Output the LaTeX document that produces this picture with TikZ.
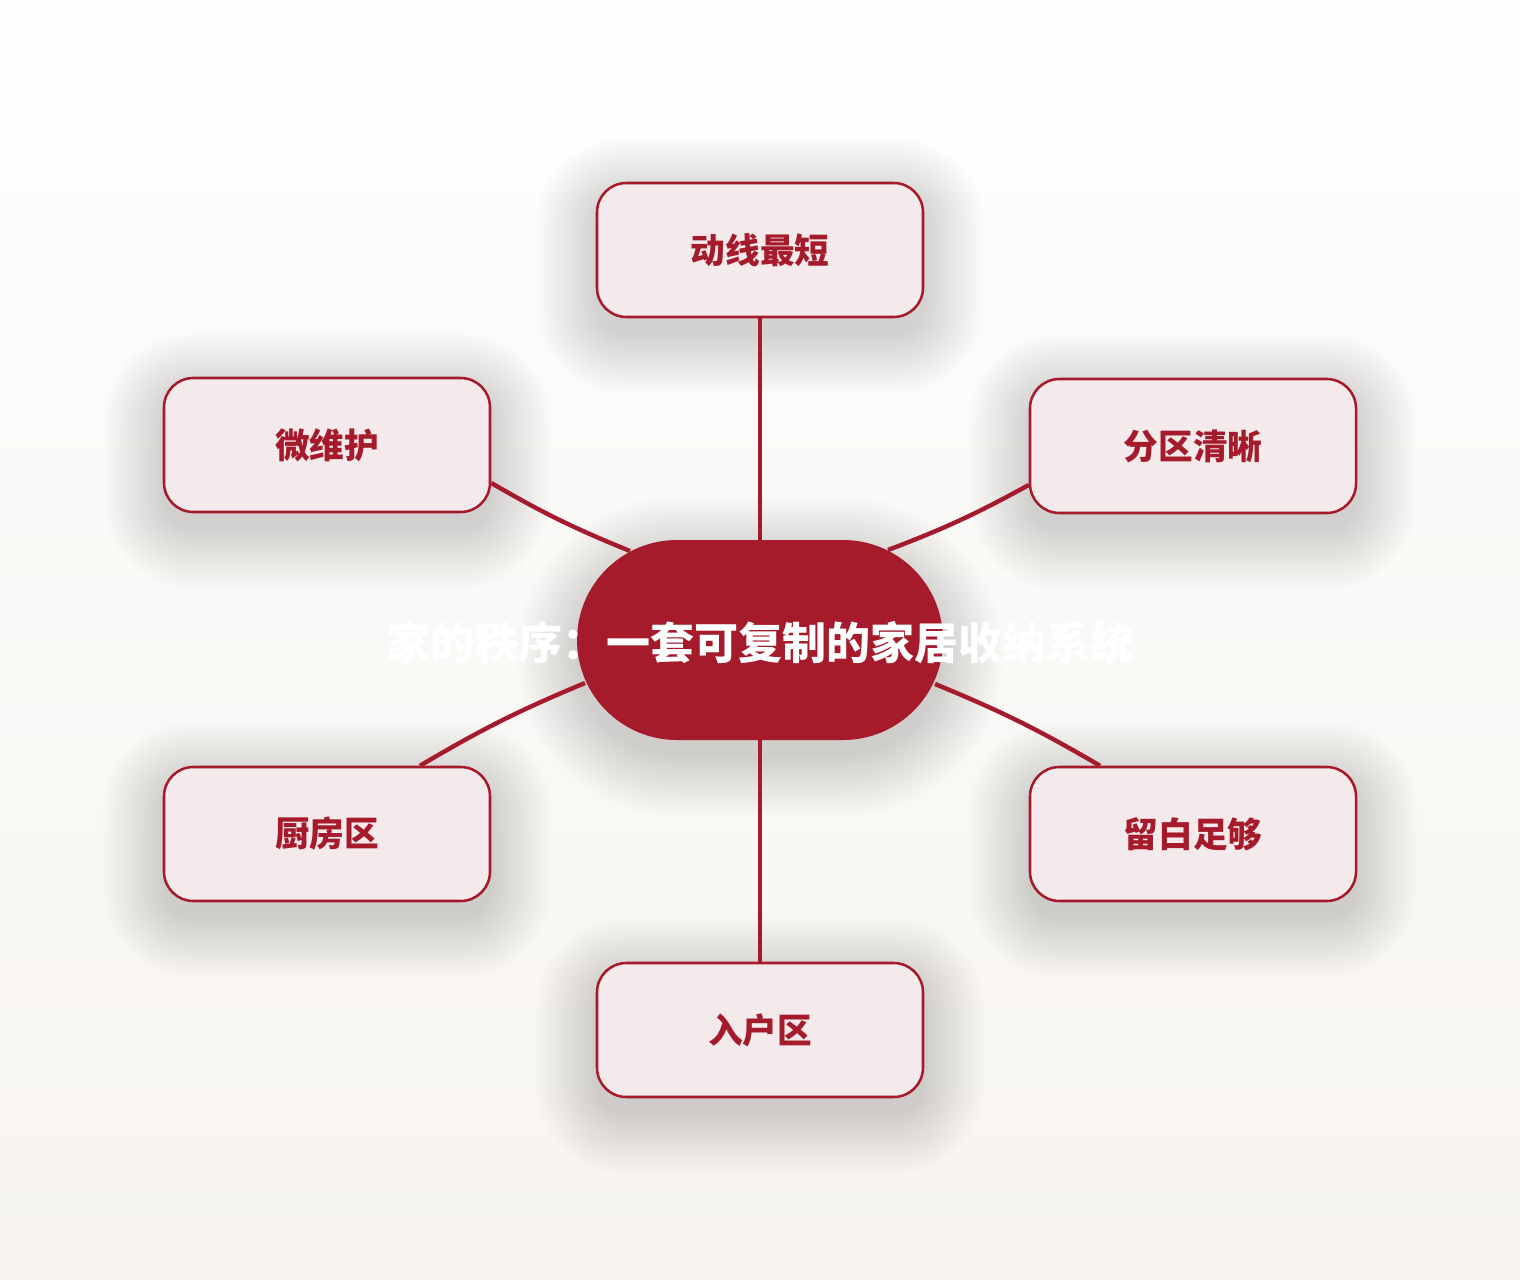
\documentclass[tikz,border=0pt]{standalone}
\usepackage{fontspec}
\setmainfont{Noto Sans CJK SC}
\usetikzlibrary{calc}
\definecolor{brand}{HTML}{A51B2B}
\definecolor{leaf}{HTML}{F4E9EB}
\definecolor{bgtop}{HTML}{FEFEFD}
\definecolor{bgbot}{HTML}{F7F4F0}
\pgfdeclarelayer{back}
\pgfdeclarelayer{shadow}
\pgfdeclarelayer{lines}
\pgfsetlayers{back,shadow,lines,main}
\begin{document}
\begin{tikzpicture}[x=0.75pt,y=-0.75pt,
  leafbox/.style={draw=brand, line width=1.9pt, fill=leaf, rounded corners=22pt,
    minimum width=244.5pt, minimum height=100.5pt, inner sep=0pt,
    text=brand, font=\fontsize{26}{30}\selectfont\bfseries},
  hub/.style={fill=brand, rounded corners=75pt, minimum width=274.5pt,
    minimum height=150pt, inner sep=0pt},
  titletext/.style={text=white, font=\fontsize{33}{40}\selectfont\bfseries, inner sep=0pt},
  link/.style={draw=brand, line width=3.3pt},
  shadowfill/.style={fill=black, fill opacity=0.0075}]
\begin{pgfonlayer}{back}
  \shade[top color=bgtop, bottom color=bgbot] (0,0) rectangle (1520,1280);
\end{pgfonlayer}
\useasboundingbox (0,0) rectangle (1520,1280);

\node[hub] (hub) at (760,640) {};
\node[titletext] (title) at (760,643) {家的秩序：一套可复制的家居收纳系统};

\node[leafbox] (n1) at (760,250) {\raisebox{-2pt}{动线最短}};
\node[leafbox] (n2) at (1193,446) {\raisebox{-2pt}{分区清晰}};
\node[leafbox] (n3) at (1193,834) {\raisebox{-2pt}{留白足够}};
\node[leafbox] (n4) at (760,1030) {\raisebox{-2pt}{入户区}};
\node[leafbox] (n5) at (327,834) {\raisebox{-2pt}{厨房区}};
\node[leafbox] (n6) at (327,445) {\raisebox{-2pt}{微维护}};

\begin{pgfonlayer}{shadow}
  \foreach \k in {0,3,...,60} {
    \pgfmathsetmacro{\rr}{75+0.75*\k}
    \fill[shadowfill, rounded corners=\rr pt]
      ($(hub.south west)+(-\k,\k+16)$) rectangle ($(hub.north east)+(\k,-\k+16)$);
    \pgfmathsetmacro{\rs}{22+0.75*\k}
    \foreach \n in {n1,n2,n3,n4,n5,n6}
      \fill[shadowfill, rounded corners=\rs pt]
        ($(\n.south west)+(-\k,\k+16)$) rectangle ($(\n.north east)+(\k,-\k+16)$);
  }
\end{pgfonlayer}

\begin{pgfonlayer}{lines}
  \draw[link] (hub) -- (n1);
  \draw[link] (hub) -- (n4);
  \draw[link] ($(hub.center)+(128,-90)$) to[bend right=4] ($(n2.west)+(0,39)$);
  \draw[link] ($(hub.center)+(-130,-89)$) to[bend left=4] ($(n6.east)+(0,38)$);
  \draw[link] ($(hub.center)+(-175,43)$) to[bend right=4] ($(n5.north)+(93,0)$);
  \draw[link] ($(hub.center)+(175,44)$) to[bend left=4] ($(n3.north)+(-93,0)$);
\end{pgfonlayer}
\end{tikzpicture}
\end{document}
